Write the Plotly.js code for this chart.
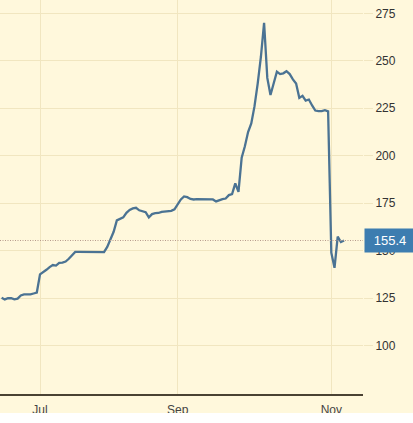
<!DOCTYPE html>
<html>
<head>
<meta charset="utf-8">
<script src="https://cdn.plot.ly/plotly-3.0.1.min.js"></script>
<style>
html,body{margin:0;padding:0;background:#ffffff;}
#chart{width:413px;height:413px;}
</style>
</head>
<body>
<div id="chart"></div>
<script>
// Trading-session index and closing price
var sessions = [0,1,2,3,4,5,6,7,8,9,10,11,12,13,14,15,16,17,18,19,20,21,22,23,24,25,26,27,28,29,30,31,32,33,34,35,36,37,38,39,40,41,42,43,44,45,46,47,48,49,50,51,52,53,54,55,56,57,58,59,60,61,62,63,64,65,66,67,68,69,70,71,72,73,74,75,76,77,78,79,80,81,82,83,84,85,86,87,88,89,90,91,92,93,94,95,96,97,98,99,100,101,102,103,104,105,106,107];
var prices = [125.3,124.4,125.0,125.0,124.4,124.8,126.5,127.0,127.0,127.0,127.5,128.0,
  137.6,138.6,140.0,141.4,142.5,142.2,143.6,143.8,144.3,145.8,147.6,149.4,149.4,149.4,149.4,149.4,149.5,149.6,149.6,149.4,149.3,
  152.0,156.5,160.0,166.0,166.7,167.6,170.0,171.5,172.3,172.6,171.3,170.7,170.3,167.6,169.3,169.8,169.9,170.5,170.7,170.7,171.0,171.8,
  174.5,177.0,178.6,178.2,177.3,177.0,177.2,177.2,177.2,177.1,177.1,177.0,176.0,176.8,177.2,177.5,179.3,179.8,185.5,181.0,
  199.0,205.0,212.5,217.0,226.0,238.0,252.0,270.0,241.0,232.0,238.5,244.3,243.0,243.4,244.5,243.0,240.2,238.0,230.5,231.6,229.0,229.6,226.5,223.8,223.5,223.5,224.0,223.4,
  149.0,141.0,157.4,154.6,155.4];
var monthTickVals = [12, 55, 103];
var monthTickText = ["Jul", "Sep", "Nov"];
var yTickVals = [100, 125, 150, 175, 200, 225, 250, 275];
var lastPrice = 155.4;

var trace = {
  x: sessions, y: prices, type: 'scatter', mode: 'lines',
  line: {color: '#4b7393', width: 2.3},
  hoverinfo: 'skip'
};

var layout = {
  width: 413, height: 413,
  margin: {l: 0, r: 50, t: 0, b: 19, pad: 0},
  paper_bgcolor: '#fff8dc',
  plot_bgcolor: '#fff8dc',
  showlegend: false,
  xaxis: {
    range: [-0.5, 112.9],
    tickvals: monthTickVals, ticktext: monthTickText,
    showgrid: true, gridcolor: '#f1e6c0', gridwidth: 1,
    zeroline: false,
    showline: true, linecolor: '#4a4233', linewidth: 2,
    ticks: '', ticklabelstandoff: 4,
    tickfont: {family: 'Liberation Sans, Arial, sans-serif', size: 12, color: '#444444'},
    fixedrange: true
  },
  yaxis: {
    side: 'right',
    range: [74.6, 282],
    tickvals: yTickVals,
    showgrid: true, gridcolor: '#f1e6c0', gridwidth: 1,
    zeroline: false, showline: false,
    ticks: 'outside', ticklen: 9, tickcolor: '#f1e6c0', tickwidth: 1,
    tickfont: {family: 'Liberation Sans, Arial, sans-serif', size: 12, color: '#333333'},
    fixedrange: true
  },
  shapes: [{
    type: 'line', xref: 'paper', yref: 'y', x0: 0, x1: 1, y0: lastPrice, y1: lastPrice,
    line: {color: '#b79a8c', width: 1, dash: '1px,1.5px'}, layer: 'above'
  }],
  annotations: [{
    xref: 'paper', yref: 'y', x: 1.003, y: lastPrice, xanchor: 'left', yanchor: 'middle',
    text: lastPrice.toFixed(1), showarrow: false,
    bgcolor: '#3d7db0', borderpad: 4, width: 42, height: 15, align: 'center',
    font: {family: 'Liberation Sans, Arial, sans-serif', size: 13, color: '#ffffff'}
  }]
};

Plotly.newPlot('chart', [trace], layout, {staticPlot: true, displayModeBar: false});
</script>
</body>
</html>
